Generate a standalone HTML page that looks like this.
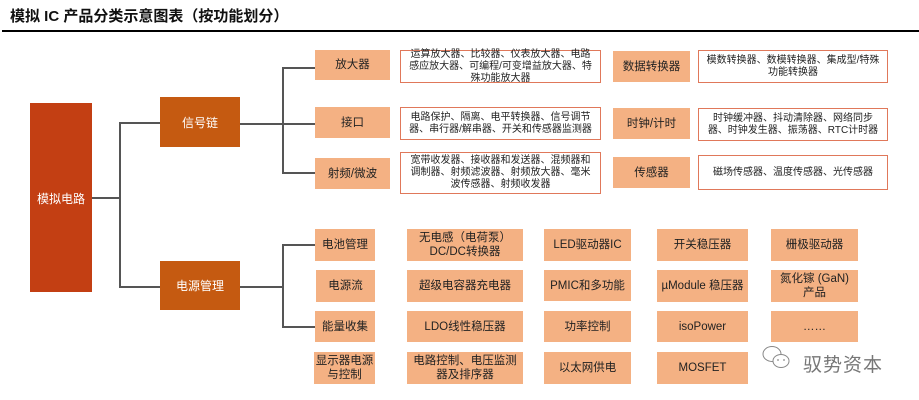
<!DOCTYPE html>
<html><head><meta charset="utf-8"><style>
body{margin:0;width:919px;height:400px;background:#fff;position:relative;overflow:hidden;font-family:"Liberation Sans","Noto Sans CJK SC",sans-serif;}
.b{position:absolute;display:flex;align-items:center;justify-content:center;text-align:center;box-sizing:border-box;}
.l{background:#f4b183;color:#222;font-size:11.5px;line-height:14px;}
.d{background:#fff;border:1.5px solid #e0785a;color:#222;font-size:10px;line-height:12px;padding:0 6px;}
.dk{color:#fff;font-size:12px;}
.h{position:absolute;height:1.5px;background:#555;}
.v{position:absolute;width:1.5px;background:#555;}
</style></head><body>
<div style="position:absolute;left:10px;top:5px;font-size:15px;font-weight:bold;color:#111">模拟 IC 产品分类示意图表（按功能划分）</div>
<div style="position:absolute;left:2px;top:30px;width:917px;height:2px;background:#000"></div>

<div class="b dk" style="left:30px;top:103px;width:62px;height:189px;background:#c33f13;align-items:flex-start;padding-top:87px">模拟电路</div>
<div class="b dk" style="left:160px;top:97px;width:80px;height:50px;background:#c55a11">信号链</div>
<div class="b dk" style="left:160px;top:261px;width:80px;height:49px;background:#c55a11">电源管理</div>

<div class="h" style="left:92px;top:197px;width:27px"></div>
<div class="v" style="left:119px;top:122px;height:165px"></div>
<div class="h" style="left:119px;top:122px;width:41px"></div>
<div class="h" style="left:119px;top:286px;width:41px"></div>
<div class="h" style="left:240px;top:123px;width:75px"></div>
<div class="v" style="left:282px;top:67px;height:106px"></div>
<div class="h" style="left:282px;top:67px;width:33px"></div>
<div class="h" style="left:282px;top:172px;width:33px"></div>
<div class="h" style="left:240px;top:286px;width:42px"></div>
<div class="v" style="left:282px;top:244px;height:83px"></div>
<div class="h" style="left:282px;top:244px;width:33px"></div>
<div class="h" style="left:282px;top:326px;width:33px"></div>

<div class="b l" style="left:315px;top:50px;width:75px;height:30px">放大器</div>
<div class="b l" style="left:315px;top:107px;width:75px;height:31px">接口</div>
<div class="b l" style="left:315px;top:158px;width:75px;height:31px">射频/微波</div>
<div class="b d" style="left:400px;top:50px;width:201px;height:33px">运算放大器、比较器、仪表放大器、电路感应放大器、可编程/可变增益放大器、特殊功能放大器</div>
<div class="b d" style="left:400px;top:107px;width:201px;height:33px">电路保护、隔离、电平转换器、信号调节器、串行器/解串器、开关和传感器监测器</div>
<div class="b d" style="left:400px;top:152px;width:201px;height:42px">宽带收发器、接收器和发送器、混频器和调制器、射频滤波器、射频放大器、毫米波传感器、射频收发器</div>
<div class="b l" style="left:613px;top:51px;width:77px;height:31px">数据转换器</div>
<div class="b l" style="left:613px;top:108px;width:77px;height:31px">时钟/计时</div>
<div class="b l" style="left:613px;top:157px;width:77px;height:31px">传感器</div>
<div class="b d" style="left:698px;top:50px;width:190px;height:33px">模数转换器、数模转换器、集成型/特殊功能转换器</div>
<div class="b d" style="left:698px;top:108px;width:190px;height:33px">时钟缓冲器、抖动清除器、网络同步器、时钟发生器、振荡器、RTC计时器</div>
<div class="b d" style="left:698px;top:155px;width:190px;height:35px">磁场传感器、温度传感器、光传感器</div>

<div class="b l" style="left:315px;top:229px;width:60px;height:32px">电池管理</div>
<div class="b l" style="left:407px;top:229px;width:116px;height:32px">无电感（电荷泵）<br>DC/DC转换器</div>
<div class="b l" style="left:544px;top:229px;width:87px;height:32px">LED驱动器IC</div>
<div class="b l" style="left:657px;top:229px;width:91px;height:32px">开关稳压器</div>
<div class="b l" style="left:771px;top:229px;width:87px;height:32px">栅极驱动器</div>

<div class="b l" style="left:316px;top:270px;width:59px;height:32px">电源流</div>
<div class="b l" style="left:407px;top:270px;width:116px;height:32px">超级电容器充电器</div>
<div class="b l" style="left:544px;top:270px;width:87px;height:31px">PMIC和多功能</div>
<div class="b l" style="left:657px;top:270px;width:91px;height:32px">µModule 稳压器</div>
<div class="b l" style="left:771px;top:270px;width:87px;height:32px">氮化镓 (GaN)<br>产品</div>

<div class="b l" style="left:315px;top:311px;width:60px;height:31px">能量收集</div>
<div class="b l" style="left:407px;top:311px;width:116px;height:31px">LDO线性稳压器</div>
<div class="b l" style="left:544px;top:311px;width:87px;height:31px">功率控制</div>
<div class="b l" style="left:657px;top:311px;width:91px;height:31px">isoPower</div>
<div class="b l" style="left:771px;top:311px;width:87px;height:31px">……</div>

<div class="b l" style="left:314px;top:352px;width:61px;height:32px">显示器电源<br>与控制</div>
<div class="b l" style="left:407px;top:352px;width:116px;height:32px">电路控制、电压监测<br>器及排序器</div>
<div class="b l" style="left:544px;top:352px;width:87px;height:32px">以太网供电</div>
<div class="b l" style="left:657px;top:352px;width:91px;height:32px">MOSFET</div>

<svg style="position:absolute;left:761px;top:343px" width="32" height="30" viewBox="0 0 32 30">
<ellipse cx="11" cy="11" rx="9" ry="7.5" fill="none" stroke="#888" stroke-width="1"/>
<ellipse cx="20" cy="18" rx="8" ry="6.5" fill="#fff" stroke="#888" stroke-width="1"/>
<circle cx="17" cy="17" r="0.9" fill="#888"/><circle cx="23" cy="17" r="0.9" fill="#888"/>
</svg>
<div style="position:absolute;left:803px;top:350px;font-size:19px;color:#777;letter-spacing:1px">驭势资本</div>
</body></html>
